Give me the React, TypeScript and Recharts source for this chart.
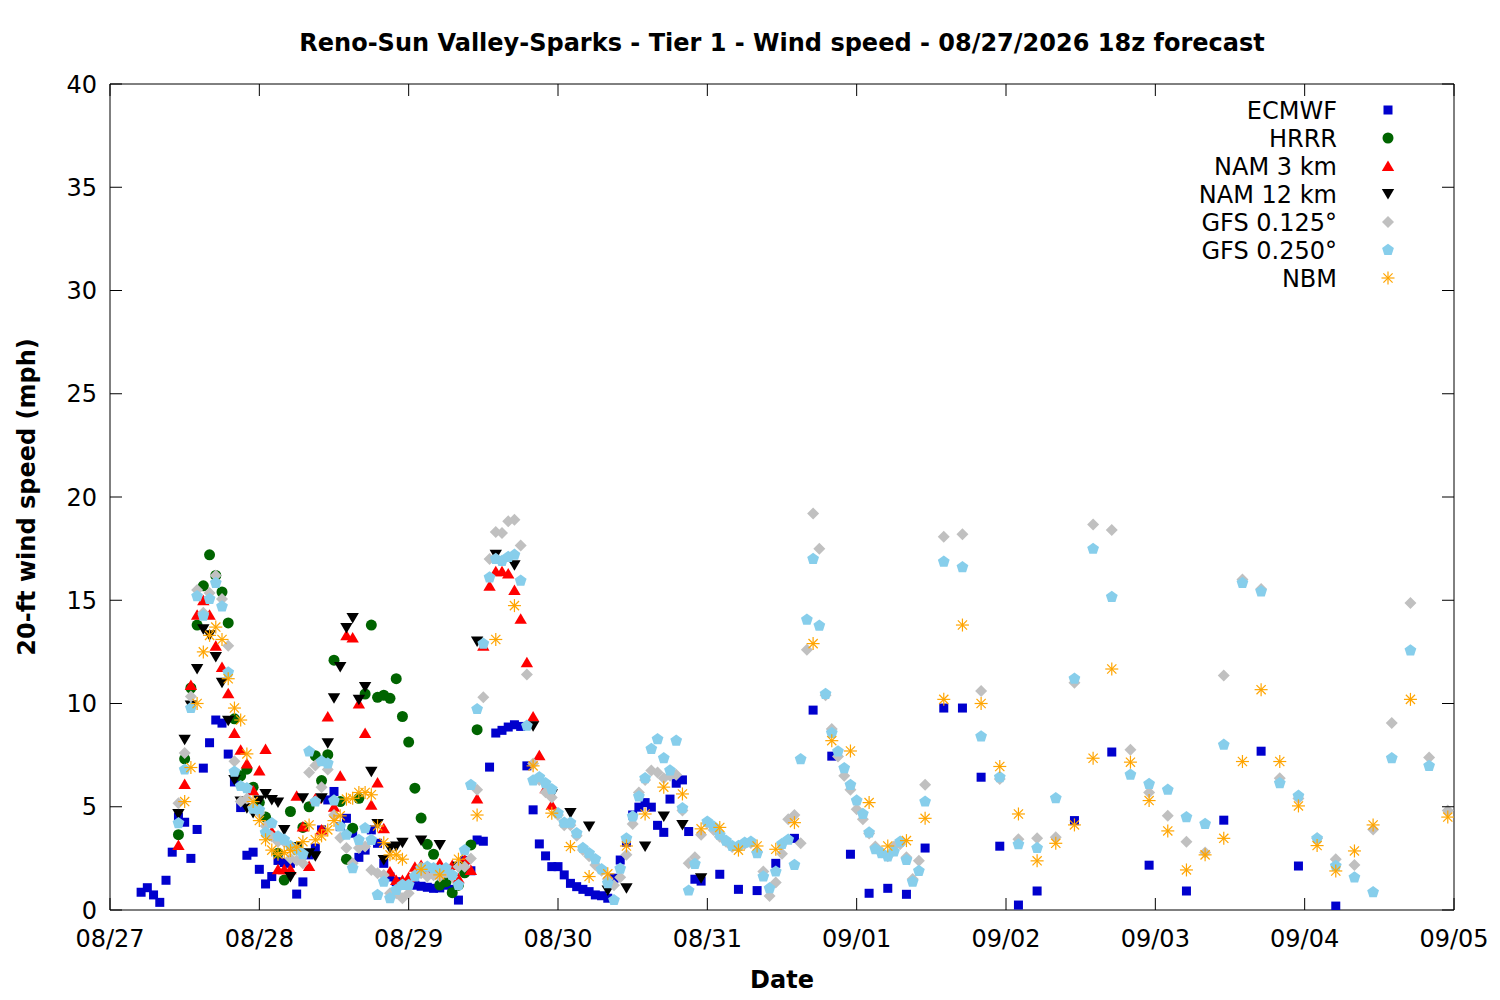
import React from 'react';
import { ScatterChart, Scatter, XAxis, YAxis, Legend } from 'recharts';

const dateLabels = ['08/27', '08/28', '08/29', '08/30', '08/31', '09/01', '09/02', '09/03', '09/04', '09/05'];
const xTicks = [0, 24, 48, 72, 96, 120, 144, 168, 192, 216];
const yTicks = [0, 5, 10, 15, 20, 25, 30, 35, 40];

// [hour since 08/27 00 local, wind speed mph]
const ecmwf = [[5,0.86],[6,1.08],[7,0.73],[8,0.37],[9,1.44],[10,2.8],[11,4.5],[12,4.25],[13,2.5],[14,3.9],[15,6.87],[16,8.1],[17,9.2],[18,9.05],[19,7.55],[20,6.2],[21,4.96],[22,2.65],[23,2.8],[24,1.97],[25,1.26],[26,1.62],[27,2.4],[28,2.3],[29,2.26],[30,0.77],[31,1.36],[32,2.67],[33,3.0],[34,3.88],[35,5.33],[36,5.74],[37,4.04],[38,4.44],[39,3.72],[40,2.55],[41,2.9],[42,3.88],[43,3.23],[44,2.26],[45,1.6],[46,1.37],[47,1.2],[48,1.3],[49,1.2],[50,1.15],[51,1.1],[52,1.05],[53,1.07],[54,1.2],[55,1.0],[56,0.48],[57,2.4],[58,1.9],[59,3.39],[60,3.33],[61,6.92],[62,8.57],[63,8.7],[64,8.86],[65,8.97],[66,8.89],[67,6.98],[68,4.85],[69,3.2],[70,2.62],[71,2.1],[72,2.1],[73,1.7],[74,1.29],[75,1.13],[76,1.0],[77,0.89],[78,0.73],[79,0.69],[80,0.57],[81,1.54],[82,2.42],[83,3.28],[84,4.6],[85,4.98],[86,5.2],[87,4.98],[88,4.1],[89,3.76],[90,5.37],[91,6.14],[92,6.3],[93,3.8],[94,1.49],[95,1.4],[98,1.73],[101,1.0],[104,0.94],[107,2.26],[110,3.47],[113,9.68],[116,7.45],[119,2.7],[122,0.81],[125,1.05],[128,0.76],[131,3.0],[134,9.78],[137,9.78],[140,6.43],[143,3.09],[146,0.24],[149,0.92],[155,4.33],[161,7.65],[167,2.17],[173,0.92],[179,4.35],[185,7.69],[191,2.13],[197,0.19]];

const hrrr = [[11,3.65],[12,7.32],[13,10.75],[14,13.8],[15,15.7],[16,17.2],[17,16.2],[18,15.4],[19,13.9],[20,9.26],[21,6.5],[22,6.82],[23,5.95],[24,5.2],[25,4.5],[26,3.6],[27,2.75],[28,1.45],[29,4.77],[30,3.04],[31,4.0],[32,5.0],[33,7.47],[34,6.27],[35,7.52],[36,12.1],[37,5.25],[38,2.46],[39,3.96],[40,5.41],[41,10.46],[42,13.8],[43,10.3],[44,10.4],[45,10.25],[46,11.2],[47,9.37],[48,8.13],[49,5.9],[50,4.45],[51,3.18],[52,2.7],[53,1.21],[54,1.37],[55,0.84],[56,1.2],[57,1.8],[58,3.15],[59,8.73]];

const nam3 = [[11,3.15],[12,6.1],[13,10.9],[14,14.3],[15,15.0],[16,14.3],[17,12.8],[18,11.77],[19,10.5],[20,8.57],[21,7.76],[22,7.1],[23,5.8],[24,6.76],[25,7.8],[26,3.8],[27,1.97],[28,1.97],[29,1.97],[30,5.53],[31,4.04],[32,2.13],[33,5.4],[34,3.9],[35,9.37],[36,5.0],[37,6.5],[38,13.3],[39,13.2],[40,10.0],[41,8.57],[42,5.1],[43,6.17],[44,3.96],[45,1.86],[46,1.45],[47,1.45],[48,1.6],[49,2.1],[50,2.18],[51,1.9],[52,1.8],[53,2.26],[54,2.0],[55,2.18],[56,1.54],[57,2.46],[58,1.94],[59,5.4],[60,12.8],[61,15.7],[62,16.4],[63,16.4],[64,16.3],[65,15.5],[66,14.1],[67,12.0],[68,9.37],[69,7.5],[70,5.9],[71,5.1]];

const nam12 = [[11,4.65],[12,8.24],[13,9.9],[14,11.67],[15,13.6],[16,13.3],[17,12.25],[18,11.0],[19,9.16],[20,6.3],[21,5.25],[22,4.93],[23,4.7],[24,5.3],[25,5.62],[26,5.33],[27,5.2],[28,3.88],[29,1.6],[30,3.04],[31,5.41],[32,2.75],[33,2.6],[34,5.41],[35,8.08],[36,10.26],[37,11.77],[38,13.66],[39,14.14],[40,10.18],[41,10.8],[42,6.7],[43,4.17],[44,2.42],[45,2.99],[46,3.07],[47,3.26],[50,3.36],[53,3.15],[56,2.1],[59,13.0],[62,17.2],[65,16.7],[68,8.9],[71,5.6],[74,4.7],[77,4.04],[80,0.94],[83,1.05],[86,3.07],[89,4.53],[92,4.12],[95,1.54]];

const gfs125 = [[11,5.17],[12,7.6],[13,10.34],[14,15.5],[15,14.4],[16,15.35],[17,16.2],[18,15.06],[19,12.8],[20,7.2],[21,5.25],[22,5.4],[23,5.0],[24,4.7],[25,4.07],[26,3.56],[27,3.3],[28,3.3],[29,2.5],[30,2.4],[31,2.26],[32,6.66],[33,7.0],[34,5.95],[35,6.8],[36,4.6],[37,3.5],[38,3.0],[39,2.26],[40,3.0],[41,3.07],[42,1.94],[43,1.78],[44,1.7],[45,0.81],[46,0.81],[47,0.57],[48,0.81],[49,1.7],[50,1.78],[51,1.62],[52,1.68],[53,1.62],[54,1.81],[55,1.62],[56,2.1],[57,2.1],[58,2.5],[59,5.82],[60,10.3],[61,17.0],[62,18.3],[63,18.26],[64,18.83],[65,18.9],[66,17.65],[67,11.4],[68,7.1],[69,6.3],[70,5.7],[71,5.45],[72,4.6],[73,4.1],[74,4.1],[75,3.6],[76,2.9],[77,2.6],[78,2.18],[79,1.9],[80,1.5],[81,1.2],[82,1.58],[83,2.67],[84,4.17],[85,5.69],[86,6.3],[87,6.76],[88,6.66],[89,6.38],[90,6.5],[91,6.55],[92,4.82],[93,2.26],[94,2.55],[95,3.64],[96,4.2],[97,3.88],[98,3.55],[99,3.3],[100,3.05],[101,3.05],[102,3.2],[103,3.25],[104,2.8],[105,1.86],[106,0.68],[107,1.33],[108,2.72],[109,4.4],[110,4.6],[111,3.23],[112,12.6],[113,19.2],[114,17.5],[115,10.4],[116,8.76],[117,7.43],[118,6.5],[119,5.82],[120,4.88],[121,4.4],[122,3.7],[123,3.07],[124,2.8],[125,2.6],[126,3.07],[127,3.2],[128,2.55],[129,1.5],[130,2.38],[131,6.06],[134,18.07],[137,18.2],[140,10.6],[143,6.34],[146,3.43],[149,3.47],[152,3.52],[155,11.0],[158,18.67],[161,18.4],[164,7.76],[167,5.69],[170,4.56],[173,3.31],[176,2.78],[179,11.35],[182,16.0],[185,15.55],[188,6.38],[191,5.4],[194,3.47],[197,2.46],[200,2.18],[203,3.9],[206,9.05],[209,14.87],[212,7.39],[215,4.82]];

const gfs250 = [[11,4.2],[12,6.8],[13,9.78],[14,15.2],[15,14.25],[16,15.06],[17,15.84],[18,14.7],[19,11.5],[20,6.7],[21,6.0],[22,5.9],[23,4.9],[24,4.85],[25,3.75],[26,4.2],[27,3.56],[28,3.4],[29,3.1],[30,2.9],[31,2.7],[32,7.68],[33,5.25],[34,7.2],[35,7.1],[36,5.3],[37,4.04],[38,3.64],[39,2.02],[40,3.39],[41,3.96],[42,3.39],[43,0.73],[44,1.37],[45,0.57],[46,0.97],[47,1.21],[48,1.21],[49,1.62],[50,2.02],[51,2.1],[52,2.02],[53,1.94],[54,2.02],[55,1.7],[56,1.21],[57,2.9],[58,6.06],[59,9.73],[60,12.9],[61,16.1],[62,17.0],[63,16.9],[64,17.1],[65,17.2],[66,15.95],[67,8.92],[68,6.27],[69,6.43],[70,6.14],[71,5.85],[72,4.69],[73,4.23],[74,4.23],[75,3.72],[76,3.0],[77,2.75],[78,2.46],[79,1.97],[80,1.3],[81,0.48],[82,2.0],[83,3.47],[84,4.53],[85,5.5],[86,6.38],[87,7.8],[88,8.27],[89,7.35],[90,6.76],[91,8.2],[92,4.93],[93,0.94],[94,2.23],[96,4.28],[97,4.04],[98,3.64],[99,3.36],[100,3.1],[101,3.1],[102,3.26],[103,3.31],[104,2.75],[105,1.62],[106,1.05],[107,1.86],[108,3.2],[109,3.4],[110,2.18],[111,7.3],[112,14.06],[113,17.0],[114,13.77],[115,10.46],[116,8.57],[117,7.68],[118,6.87],[119,6.06],[120,5.3],[121,4.65],[122,3.75],[123,2.94],[124,2.75],[125,2.59],[126,2.83],[127,3.31],[128,2.42],[129,1.37],[130,1.89],[131,5.25],[134,16.87],[137,16.6],[140,8.4],[143,6.43],[146,3.18],[149,3.0],[152,5.41],[155,11.2],[158,17.49],[161,15.16],[164,6.55],[167,6.1],[170,5.82],[173,4.49],[176,4.17],[179,8.0],[182,15.84],[185,15.43],[188,6.14],[191,5.53],[194,3.47],[197,2.13],[200,1.58],[203,0.86],[206,7.35],[209,12.57],[212,6.98]];

const nbm = [[12,5.25],[13,6.9],[14,10.0],[15,12.5],[16,13.3],[17,13.7],[18,13.1],[19,11.2],[20,9.78],[21,9.2],[22,7.56],[23,5.25],[24,4.33],[25,3.4],[26,2.9],[27,2.7],[28,2.78],[29,2.88],[30,3.04],[31,3.31],[32,4.12],[33,3.4],[34,3.59],[35,3.88],[36,4.33],[37,4.56],[38,5.37],[39,5.41],[40,5.69],[41,5.69],[42,5.58],[43,4.07],[44,3.26],[45,2.67],[46,2.67],[47,2.46],[50,1.97],[53,1.7],[56,2.46],[59,4.6],[62,13.1],[65,14.74],[68,6.98],[71,4.69],[74,3.07],[77,1.62],[80,1.75],[83,3.1],[86,4.65],[89,5.95],[92,5.62],[95,3.93],[98,4.0],[101,2.9],[104,3.1],[107,2.94],[110,4.23],[113,12.9],[116,8.2],[119,7.7],[122,5.2],[125,3.1],[128,3.36],[131,4.44],[134,10.2],[137,13.8],[140,10.0],[143,6.95],[146,4.65],[149,2.38],[152,3.23],[155,4.12],[158,7.35],[161,11.67],[164,7.16],[167,5.3],[170,3.83],[173,1.94],[176,2.67],[179,3.47],[182,7.19],[185,10.67],[188,7.19],[191,5.04],[194,3.12],[197,1.89],[200,2.86],[203,4.12],[209,10.2],[215,4.5]];

const FONT = '"DejaVu Sans", sans-serif';
const FS = 24;

const toPoints = (pairs: number[][]) => pairs.map(([hour, speed]) => ({ hour, speed }));

const drawSquare = (cx: number, cy: number) => <rect x={cx - 4.5} y={cy - 4.5} width={9} height={9} fill="#0000cd" />;
const drawCircle = (cx: number, cy: number) => <circle cx={cx} cy={cy} r={5.5} fill="#006400" />;
const drawUp = (cx: number, cy: number) => (
  <polygon points={`${cx},${cy - 5.5} ${cx + 6.2},${cy + 5} ${cx - 6.2},${cy + 5}`} fill="#ff0000" />
);
const drawDown = (cx: number, cy: number) => (
  <polygon points={`${cx - 6.2},${cy - 5} ${cx + 6.2},${cy - 5} ${cx},${cy + 5.5}`} fill="#000000" />
);
const drawDiamond = (cx: number, cy: number) => (
  <polygon points={`${cx},${cy - 6} ${cx + 6},${cy} ${cx},${cy + 6} ${cx - 6},${cy}`} fill="#c0c0c0" />
);
const drawPentagon = (cx: number, cy: number) => {
  const pts: string[] = [];
  for (let k = 0; k < 5; k++) {
    const a = -Math.PI / 2 + (k * 2 * Math.PI) / 5;
    pts.push(`${cx + 6.2 * Math.cos(a)},${cy + 6.2 * Math.sin(a)}`);
  }
  return <polygon points={pts.join(' ')} fill="#87ceeb" />;
};
const drawStar = (cx: number, cy: number) => {
  const r = 6.5;
  const d = r * 0.7071;
  return (
    <g stroke="#ffa500" strokeWidth={1.2}>
      <line x1={cx - r} y1={cy} x2={cx + r} y2={cy} />
      <line x1={cx} y1={cy - r} x2={cx} y2={cy + r} />
      <line x1={cx - d} y1={cy - d} x2={cx + d} y2={cy + d} />
      <line x1={cx - d} y1={cy + d} x2={cx + d} y2={cy - d} />
    </g>
  );
};

const series = [
  { name: 'ECMWF', data: ecmwf, draw: drawSquare },
  { name: 'HRRR', data: hrrr, draw: drawCircle },
  { name: 'NAM 3 km', data: nam3, draw: drawUp },
  { name: 'NAM 12 km', data: nam12, draw: drawDown },
  { name: 'GFS 0.125°', data: gfs125, draw: drawDiamond },
  { name: 'GFS 0.250°', data: gfs250, draw: drawPentagon },
  { name: 'NBM', data: nbm, draw: drawStar },
];

const BottomTick = (props: any) => {
  const { x, y, payload } = props;
  const idx = Math.round(payload.value / 24);
  return (
    <g>
      <line x1={x} y1={y} x2={x} y2={y - 12} stroke="#000" strokeWidth={1} />
      <text x={x} y={y + 37} textAnchor="middle" fontFamily={FONT} fontSize={FS} fill="#000">
        {dateLabels[idx]}
      </text>
    </g>
  );
};
const TopTick = (props: any) => {
  const { x, y } = props;
  return <line x1={x} y1={y} x2={x} y2={y + 12} stroke="#000" strokeWidth={1} />;
};
const LeftTick = (props: any) => {
  const { x, y, payload } = props;
  return (
    <g>
      <line x1={x} y1={y} x2={x} y2={y} stroke="#000" strokeWidth={1} />
      <line x1={x} y1={y} x2={x + 12} y2={y} stroke="#000" strokeWidth={1} />
      <text x={x - 13} y={y + 8.5} textAnchor="end" fontFamily={FONT} fontSize={FS} fill="#000">
        {payload.value}
      </text>
    </g>
  );
};
const RightTick = (props: any) => {
  const { x, y } = props;
  return <line x1={x} y1={y} x2={x - 12} y2={y} stroke="#000" strokeWidth={1} />;
};

const renderLegend = () => (
  <svg width={340} height={210} style={{ display: 'block' }}>
    {series.map((s, i) => {
      const cy = 20 + i * 28;
      return (
        <g key={s.name}>
          <text x={237} y={cy + 8.5} textAnchor="end" fontFamily={FONT} fontSize={FS} fill="#000">
            {s.name}
          </text>
          {s.draw(288, cy)}
        </g>
      );
    })}
  </svg>
);

export default function App() {
  return (
    <div style={{ position: 'relative', width: 1500, height: 1000, background: '#fff', fontFamily: FONT }}>
      <style>{`body{margin:0;background:#fff}`}</style>
      <div
        style={{
          position: 'absolute', left: 110, width: 1344, top: 27, lineHeight: '32px',
          textAlign: 'center', fontWeight: 'bold', fontSize: FS, color: '#000',
        }}
      >
        Reno-Sun Valley-Sparks - Tier 1 - Wind speed - 08/27/2026 18z forecast
      </div>
      <div
        style={{
          position: 'absolute', left: 110, width: 1344, top: 964, lineHeight: '32px',
          textAlign: 'center', fontWeight: 'bold', fontSize: FS, color: '#000',
        }}
      >
        Date
      </div>
      <div
        style={{
          position: 'absolute', left: 27 - 413, width: 826, top: 497 - 16, lineHeight: '32px',
          textAlign: 'center', fontWeight: 'bold', fontSize: FS, color: '#000',
          transform: 'rotate(-90deg)',
        }}
      >
        20-ft wind speed (mph)
      </div>
      <div style={{ position: 'absolute', left: 0, top: 0 }}>
        <ScatterChart width={1500} height={1000} margin={{ top: 83, right: 45, bottom: 60, left: 50 }}>
          <XAxis
            xAxisId={0}
            type="number"
            dataKey="hour"
            domain={[0, 216]}
            ticks={xTicks}
            allowDataOverflow
            height={30}
            tickSize={0}
            tickMargin={0}
            tickLine={false}
            axisLine={{ stroke: '#000', strokeWidth: 1 }}
            tick={<BottomTick />}
            interval={0}
          />
          <XAxis
            xAxisId="top"
            orientation="top"
            type="number"
            dataKey="hour"
            domain={[0, 216]}
            ticks={xTicks}
            allowDataOverflow
            height={1}
            tickSize={0}
            tickMargin={0}
            tickLine={false}
            axisLine={{ stroke: '#000', strokeWidth: 1 }}
            tick={<TopTick />}
            interval={0}
          />
          <YAxis
            yAxisId={0}
            type="number"
            dataKey="speed"
            domain={[0, 40]}
            ticks={yTicks}
            allowDataOverflow
            width={60}
            tickSize={0}
            tickMargin={0}
            tickLine={false}
            axisLine={{ stroke: '#000', strokeWidth: 1 }}
            tick={<LeftTick />}
            interval={0}
          />
          <YAxis
            yAxisId="right"
            orientation="right"
            type="number"
            dataKey="speed"
            domain={[0, 40]}
            ticks={yTicks}
            allowDataOverflow
            width={1}
            tickSize={0}
            tickMargin={0}
            tickLine={false}
            axisLine={{ stroke: '#000', strokeWidth: 1 }}
            tick={<RightTick />}
            interval={0}
          />
          <Legend
            layout="vertical"
            align="center"
            verticalAlign="middle"
            content={renderLegend}
            wrapperStyle={{ position: 'absolute', left: 1100, top: 90, width: 340, height: 210 }}
          />
          {series.map((s) => (
            <Scatter
              key={s.name}
              name={s.name}
              data={toPoints(s.data)}
              xAxisId={0}
              yAxisId={0}
              isAnimationActive={false}
              shape={(p: any) => s.draw(p.cx, p.cy)}
            />
          ))}
        </ScatterChart>
      </div>
    </div>
  );
}
